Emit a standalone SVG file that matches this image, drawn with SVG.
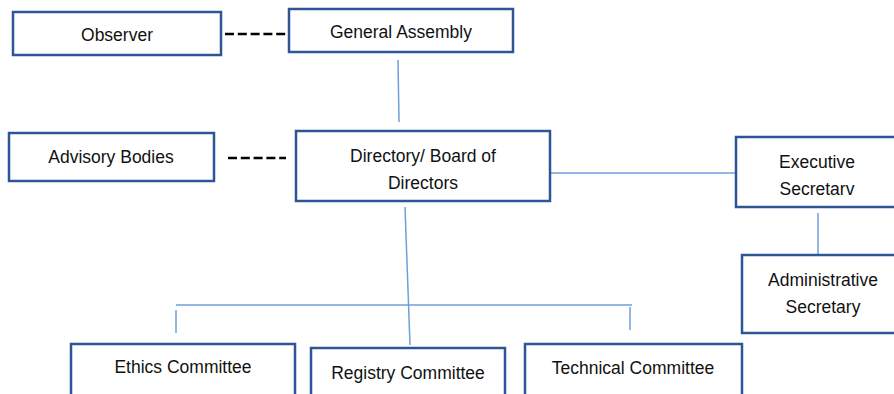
<svg xmlns="http://www.w3.org/2000/svg" width="894" height="394" viewBox="0 0 894 394">
<style>
.box{fill:#fff;stroke:#2F5597;stroke-width:2.5}
.t{font-family:"Liberation Sans",Arial,sans-serif;font-size:17.5px;fill:#111;text-anchor:middle}
.c{stroke:#6F9FD8;stroke-width:1.5;fill:none}
.d{stroke:#000;stroke-width:2.5;stroke-dasharray:9,3.8;fill:none}
</style>
<rect width="894" height="394" fill="#fff"/>
<g id="connectors">
<line class="d" x1="225" y1="34" x2="288" y2="34"/>
<line class="d" x1="228" y1="158" x2="286" y2="158"/>
<line class="c" x1="398" y1="60" x2="399" y2="122"/>
<line class="c" x1="551" y1="173" x2="736" y2="173"/>
<line class="c" x1="818" y1="213" x2="818" y2="256"/>
<line class="c" x1="405" y1="207" x2="410" y2="345"/>
<line class="c" x1="176" y1="305" x2="632" y2="305"/>
<line class="c" x1="176" y1="310" x2="176" y2="333"/>
<line class="c" x1="630" y1="307" x2="630" y2="330"/>
</g>
<g id="observer"><rect class="box" x="13" y="12" width="208" height="43"/><text class="t" x="117" y="41">Observer</text></g>
<g id="general-assembly"><rect class="box" x="289" y="9" width="224" height="43"/><text class="t" x="401" y="38">General Assembly</text></g>
<g id="advisory-bodies"><rect class="box" x="9" y="133" width="205" height="48"/><text class="t" x="111" y="163">Advisory Bodies</text></g>
<g id="directory"><rect class="box" x="296" y="131" width="254" height="70"/><text class="t" x="423" y="162">Directory/ Board of</text><text class="t" x="423" y="189">Directors</text></g>
<g id="executive-secretary"><rect class="box" x="736" y="137" width="162" height="70"/><text class="t" x="817" y="168">Executive</text><text class="t" x="817" y="195">Secretarv</text></g>
<g id="administrative-secretary"><rect class="box" x="742" y="255" width="156" height="78"/><text class="t" x="823" y="286">Administrative</text><text class="t" x="823" y="313">Secretary</text></g>
<g id="ethics-committee"><rect class="box" x="71" y="344" width="224" height="54"/><text class="t" x="183" y="373">Ethics Committee</text></g>
<g id="registry-committee"><rect class="box" x="311" y="348" width="194" height="50"/><text class="t" x="408" y="379">Registry Committee</text></g>
<g id="technical-committee"><rect class="box" x="525" y="344" width="217" height="54"/><text class="t" x="633" y="374">Technical Committee</text></g>
</svg>
